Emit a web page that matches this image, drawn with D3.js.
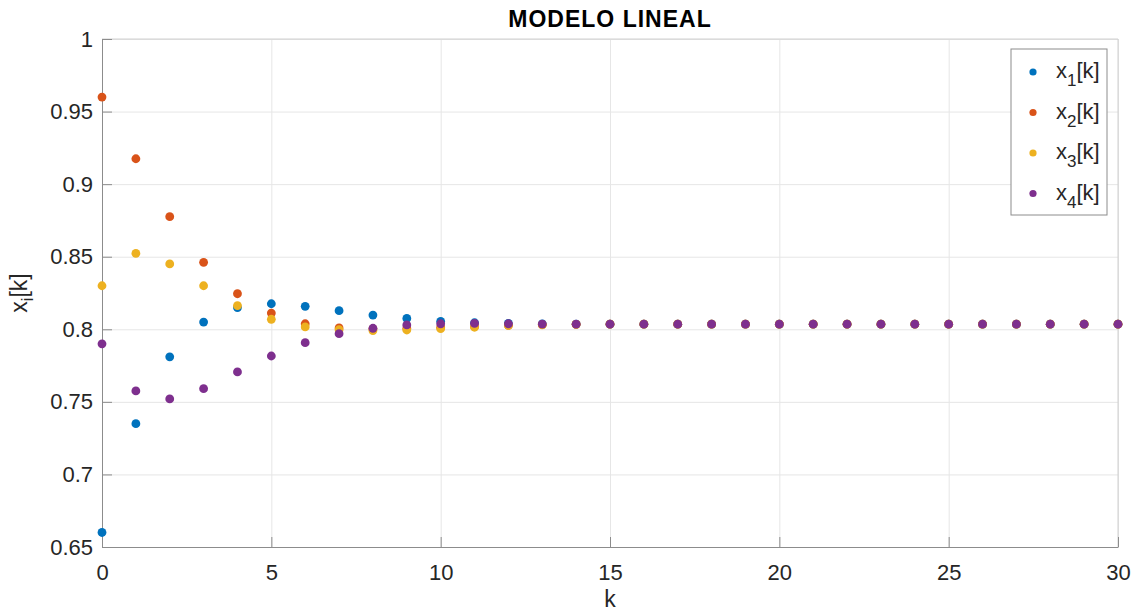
<!DOCTYPE html>
<html lang="es">
<head>
<meta charset="UTF-8" />
<title>Modelo lineal</title>
<style>
  body { margin: 0; background: #fff; }
  svg text { font-family: "Liberation Sans", Arial, Helvetica, sans-serif; fill: #262626; }
  .grid line { stroke: #e6e6e6; stroke-width: 1; }
  .grid path { display: none; }
  .axis path, .axis line { stroke: #8c8c8c; }
  .axis text { font-size: 22px; }
</style>
</head>
<body>
<div class="chart"></div>
<script src="https://d3js.org/d3.v7.min.js"></script>
<script>
// datos
const k = d3.range(0, 31)
const x1 = [0.660, 0.735, 0.781, 0.805, 0.815, 0.8176, 0.8158, 0.8128, 0.8098, 0.8075, 0.8055, 0.8045, 0.8040, 0.8037, 0.8036]
const x2 = [0.960, 0.9175, 0.8776, 0.8461, 0.8245, 0.8112, 0.8038, 0.8009, 0.8003, 0.8006, 0.8013, 0.8020, 0.8027, 0.8032, 0.8034]
const x3 = [0.830, 0.8523, 0.845, 0.830, 0.8163, 0.8069, 0.8016, 0.7997, 0.7991, 0.7995, 0.8004, 0.8014, 0.8026, 0.8031, 0.8034]
const x4 = [0.790, 0.7575, 0.752, 0.7591, 0.7706, 0.7816, 0.7908, 0.7970, 0.8007, 0.8030, 0.8038, 0.8041, 0.8038, 0.8036, 0.8035]
const xFinal = 0.8035
const seriesNames = ['1', '2', '3', '4']
const colors = ['#0072BD', '#D95319', '#EDB120', '#7E2F8E']
const xTicks = [0, 5, 10, 15, 20, 25, 30]
const yTicks = [0.65, 0.7, 0.75, 0.8, 0.85, 0.9, 0.95, 1]

const width = 1137, height = 614
const mLeft = 102, mRight = 1118, mTop = 39, mBottom = 547

// completar con el valor de convergencia
const fill = arr => k.map(i => i < arr.length ? arr[i] : xFinal)
const series = [x1, x2, x3, x4].map(fill)

const svg = d3.select('.chart').append('svg')
  .attr('width', width).attr('height', height)

const xScale = d3.scaleLinear().domain([0, 30]).range([mLeft, mRight])
const yScale = d3.scaleLinear().domain([0.65, 1]).range([mBottom, mTop])

// rejilla
svg.append('g').attr('class', 'grid')
  .attr('transform', `translate(0,${mBottom})`)
  .call(d3.axisBottom(xScale).tickValues(xTicks).tickSize(-(mBottom - mTop)).tickFormat(''))
svg.append('g').attr('class', 'grid')
  .attr('transform', `translate(${mLeft},0)`)
  .call(d3.axisLeft(yScale).tickValues(yTicks).tickSize(-(mRight - mLeft)).tickFormat(''))

// marco superior / derecho
svg.append('path')
  .attr('d', `M${mLeft},${mTop}H${mRight}V${mBottom}`)
  .attr('fill', 'none').attr('stroke', '#d0d0d0')

// ejes
const xAxis = svg.append('g').attr('class', 'axis')
  .attr('transform', `translate(0,${mBottom})`)
  .call(d3.axisBottom(xScale).tickValues(xTicks).tickSize(-10).tickSizeOuter(0).tickPadding(14))
xAxis.selectAll('text').attr('dy', '0.85em')

svg.append('g').attr('class', 'axis')
  .attr('transform', `translate(${mLeft},0)`)
  .call(d3.axisLeft(yScale).tickValues(yTicks).tickSize(-10).tickSizeOuter(0).tickPadding(9)
    .tickFormat(d => d3.format('')(+d.toFixed(2))))

// puntos
series.forEach((s, j) => {
  svg.append('g').selectAll('circle')
    .data(s)
    .join('circle')
    .attr('cx', (d, i) => xScale(k[i]))
    .attr('cy', d => yScale(d))
    .attr('r', 4.4)
    .attr('fill', colors[j])
})

// titulo y etiquetas
svg.append('text')
  .attr('x', (mLeft + mRight) / 2).attr('y', 27)
  .attr('text-anchor', 'middle')
  .style('font-size', '23px').style('font-weight', 'bold')
  .style('letter-spacing', '1px')
  .style('fill', '#000')
  .text('MODELO LINEAL')

svg.append('text')
  .attr('x', (mLeft + mRight) / 2).attr('y', 607)
  .attr('text-anchor', 'middle')
  .style('font-size', '23px')
  .text('k')

const yl = svg.append('text')
  .attr('transform', 'translate(27,293) rotate(-90)')
  .attr('text-anchor', 'middle')
  .style('font-size', '23px')
yl.append('tspan').text('x')
yl.append('tspan').attr('dy', 6).style('font-size', '16px').text('i')
yl.append('tspan').attr('dy', -6).text('[k]')

// leyenda
const legend = svg.append('g')
legend.append('rect')
  .attr('x', 1011).attr('y', 49).attr('width', 96).attr('height', 166)
  .attr('fill', '#fff').attr('stroke', '#8c8c8c')

seriesNames.forEach((n, j) => {
  const cy = 72 + j * 40.5
  legend.append('circle')
    .attr('cx', 1033).attr('cy', cy).attr('r', 3.6).attr('fill', colors[j])
  const t = legend.append('text')
    .attr('x', 1056).attr('y', cy + 6)
    .style('font-size', '22px')
  t.append('tspan').text('x')
  t.append('tspan').attr('dy', 8).style('font-size', '17px').text(n)
  t.append('tspan').attr('dy', -8).text('[k]')
})
</script>
</body>
</html>
